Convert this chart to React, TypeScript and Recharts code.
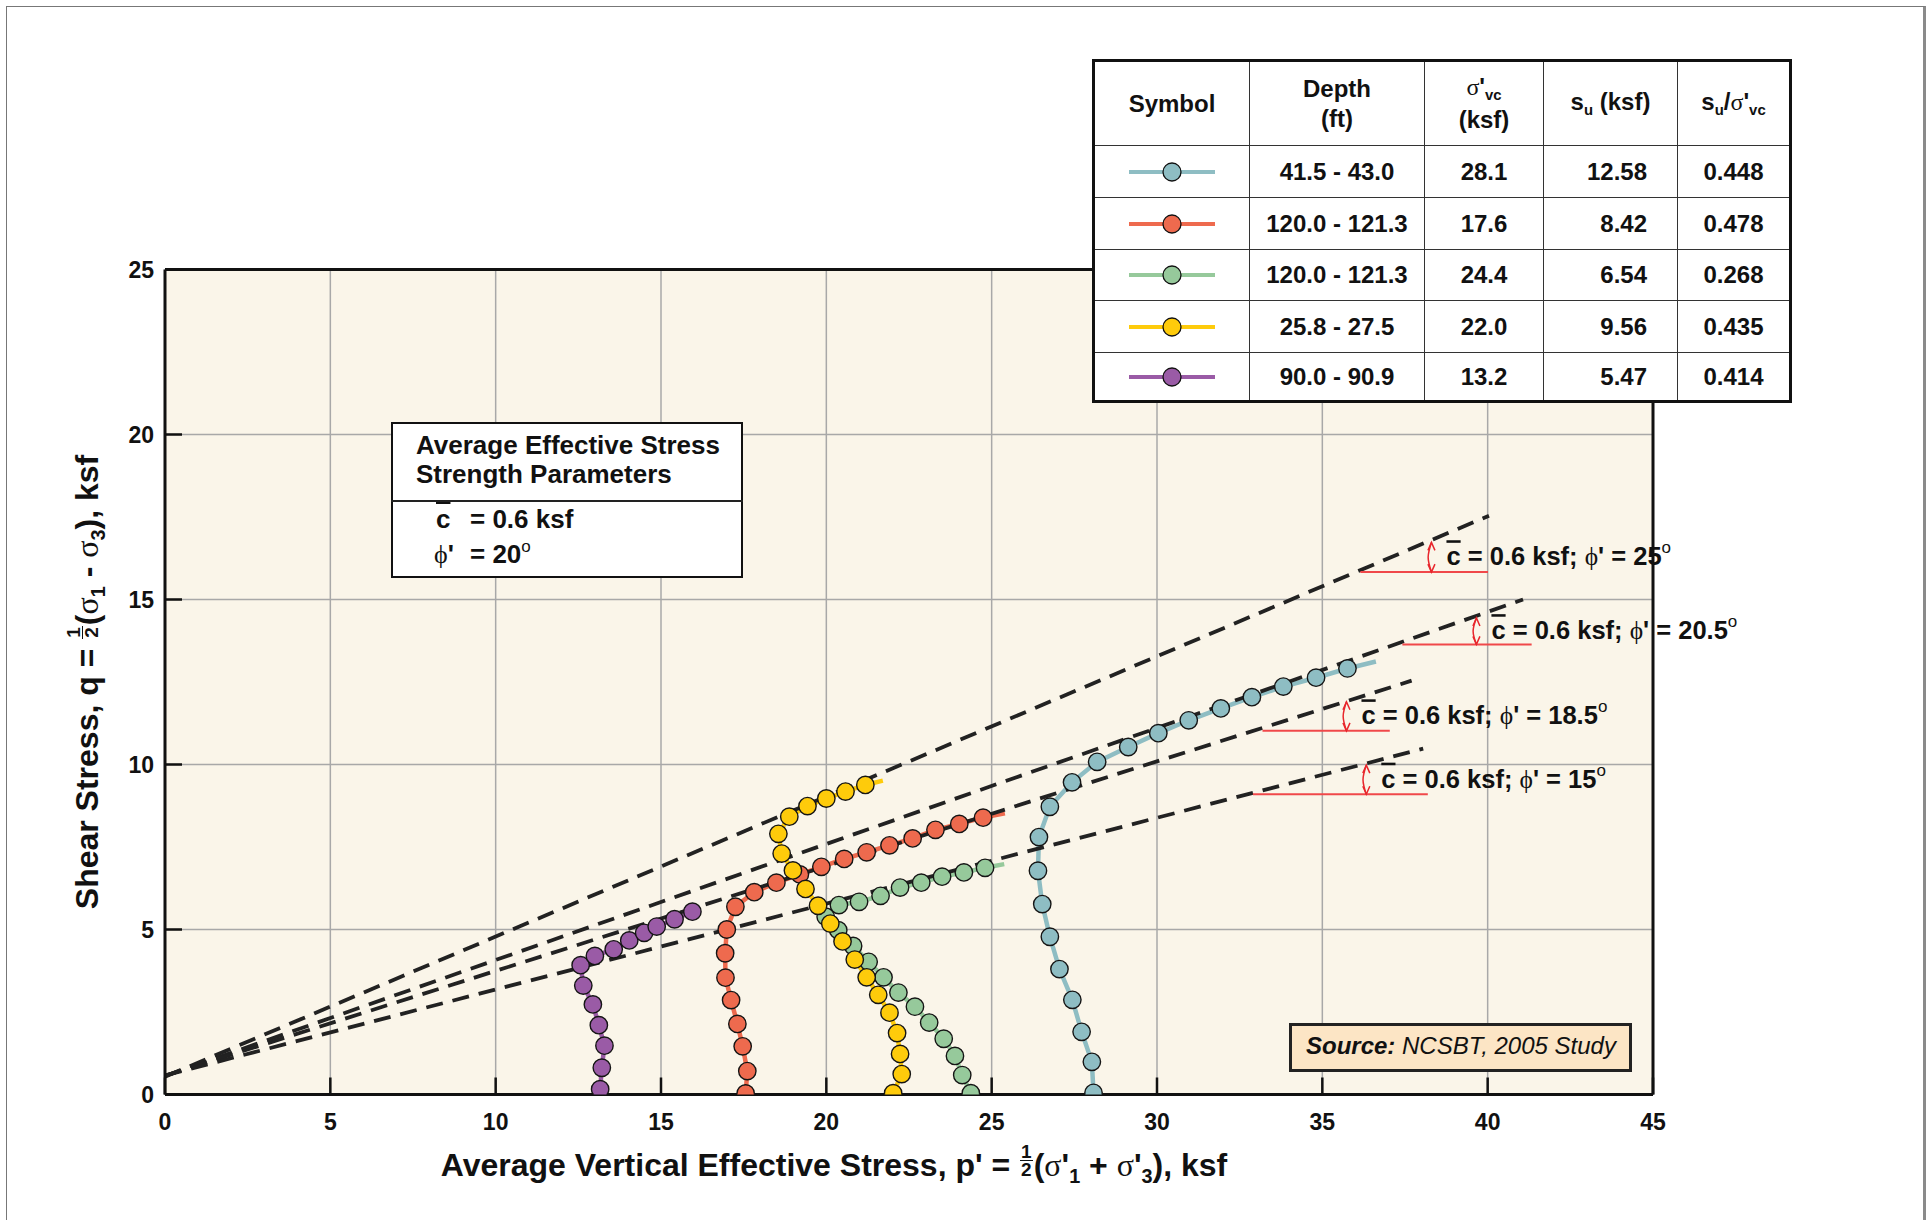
import React from "react";
import { ComposedChart, Line, Scatter, XAxis, YAxis, CartesianGrid } from "recharts";

const xTicks = [0, 5, 10, 15, 20, 25, 30, 35, 40, 45];
const yTicks = [0, 5, 10, 15, 20, 25];

// 41.5 - 43.0 ft
const tealP = [28.08, 28.03, 27.72, 27.44, 27.05, 26.76, 26.53, 26.4, 26.43, 26.76, 27.43, 28.19, 29.13, 30.04, 30.96, 31.93, 32.87, 33.82, 34.81, 35.76];
const tealQ = [0.05, 0.99, 1.9, 2.87, 3.8, 4.78, 5.77, 6.78, 7.8, 8.72, 9.46, 10.08, 10.53, 10.95, 11.34, 11.7, 12.04, 12.36, 12.63, 12.91];
const tealEnd = [36.62, 13.12];

// 120.0 - 121.3 ft (red)
const redP = [17.56, 17.61, 17.47, 17.31, 17.12, 16.95, 16.94, 16.99, 17.25, 17.82, 18.49, 19.2, 19.85, 20.54, 21.22, 21.91, 22.61, 23.3, 24.02, 24.74];
const redQ = [0.03, 0.71, 1.46, 2.14, 2.86, 3.54, 4.28, 5.0, 5.69, 6.13, 6.42, 6.67, 6.9, 7.14, 7.34, 7.55, 7.76, 8.02, 8.2, 8.39];
const redEnd = [25.4, 8.52];

// 120.0 - 121.3 ft (green)
const greenP = [24.37, 24.11, 23.89, 23.55, 23.11, 22.68, 22.18, 21.73, 21.28, 20.81, 20.36, 19.98, 20.38, 20.99, 21.64, 22.23, 22.87, 23.5, 24.16, 24.8];
const greenQ = [0.04, 0.59, 1.17, 1.69, 2.18, 2.66, 3.09, 3.55, 4.02, 4.5, 4.98, 5.39, 5.74, 5.84, 6.02, 6.27, 6.42, 6.6, 6.73, 6.87];
const greenEnd = [25.38, 6.98];

// 25.8 - 27.5 ft
const yellowP = [22.02, 22.28, 22.23, 22.14, 21.91, 21.57, 21.22, 20.86, 20.49, 20.12, 19.75, 19.37, 18.99, 18.65, 18.55, 18.88, 19.43, 20.0, 20.58, 21.18];
const yellowQ = [0.04, 0.62, 1.23, 1.86, 2.48, 3.02, 3.55, 4.09, 4.64, 5.18, 5.72, 6.23, 6.79, 7.3, 7.9, 8.42, 8.74, 8.97, 9.18, 9.38];
const yellowEnd = [21.71, 9.51];

// 90.0 - 90.9 ft
const purpleP = [13.16, 13.21, 13.29, 13.12, 12.94, 12.65, 12.57, 13.0, 13.57, 14.04, 14.49, 14.87, 15.41, 15.95];
const purpleQ = [0.16, 0.81, 1.48, 2.1, 2.73, 3.3, 3.92, 4.2, 4.4, 4.67, 4.9, 5.09, 5.31, 5.54];

// table
const depths = ["41.5 - 43.0", "120.0 - 121.3", "120.0 - 121.3", "25.8 - 27.5", "90.0 - 90.9"];
const sigmaVc = ["28.1", "17.6", "24.4", "22.0", "13.2"];
const suVals = ["12.58", "8.42", "6.54", "9.56", "5.47"];
const suRatio = ["0.448", "0.478", "0.268", "0.435", "0.414"];
const colors = ["#8ebdc3", "#ee6a4e", "#96c99b", "#fecb0b", "#9a5ba6"];

// strength envelopes, c = 0.6 ksf
const envPhi = ["25", "20.5", "18.5", "15"];
const envStartQ = [0.54, 0.56, 0.57, 0.58];
const envEndP = [40.04, 41.07, 37.7, 38.05];
const envEndQ = [17.54, 15.0, 12.54, 10.48];
const refQ = [15.83, 13.64, 11.02, 9.1];
const refP0 = [36.15, 37.42, 33.19, 32.9];
const refP1 = [40.01, 41.33, 37.04, 38.19];
const arrowP = [38.3, 39.66, 35.73, 36.33];
const arrowTopQ = [16.73, 14.44, 11.9, 9.98];

const SANS = '"Liberation Sans", Arial, Helvetica, sans-serif';
const SERIF = '"Liberation Serif", "Times New Roman", serif';
const RED = "#e8262c";

const pts = (p: number[], q: number[]) => p.map((x, i) => ({ x, y: q[i] }));
const withEnd = (p: number[], q: number[], end?: number[]) =>
  end ? [...pts(p, q), { x: end[0], y: end[1] }] : pts(p, q);

const series = [
  { key: "teal", color: colors[0], p: tealP, q: tealQ, end: tealEnd },
  { key: "red", color: colors[1], p: redP, q: redQ, end: redEnd },
  { key: "green", color: colors[2], p: greenP, q: greenQ, end: greenEnd },
  { key: "yellow", color: colors[3], p: yellowP, q: yellowQ, end: yellowEnd },
  { key: "purple", color: colors[4], p: purpleP, q: purpleQ, end: undefined },
];
const markerOrder = ["purple", "red", "green", "teal", "yellow"];

const tickStyle = { fill: "#111", fontSize: 23, fontWeight: 700, fontFamily: SANS };
const axisLine = { stroke: "#111", strokeWidth: 3 };
const tickLine = { stroke: "#111", strokeWidth: 2.5 };

const arrowHead = (props: any) => {
  const { cx, cy, index } = props;
  if (index === 1) return <g key={`a${index}`} />;
  const s = index === 0 ? -1 : 1;
  return (
    <path
      key={`a${index}`}
      d={`M${cx - 3.5},${cy + s * 8} L${cx},${cy} L${cx + 3.5},${cy + s * 8}`}
      fill="none"
      stroke={RED}
      strokeWidth={1.5}
    />
  );
};

const envLabel = (props: any) => {
  const { cx, cy, payload } = props;
  return (
    <text x={cx + 15} y={cy + 8} fontFamily={SANS} fontWeight={700} fontSize={25.5} fill="#111">
      <tspan style={{ textDecoration: "overline" }}>c</tspan>
      <tspan> = 0.6 ksf; </tspan>
      <tspan fontFamily={SERIF} fontWeight={400}>ϕ</tspan>
      <tspan>' = {payload.phi}</tspan>
      <tspan fontSize={17} fontWeight={400} dy={-12}>o</tspan>
    </text>
  );
};

const Sig = () => <span style={{ fontFamily: SERIF, fontWeight: 400 }}>σ</span>;
const Sub = ({ children }: { children: React.ReactNode }) => (
  <span style={{ fontSize: "0.62em", position: "relative", top: "0.35em" }}>{children}</span>
);
const Half = ({ size }: { size: number }) => (
  <span
    style={{
      display: "inline-flex",
      flexDirection: "column",
      alignItems: "center",
      fontSize: size,
      lineHeight: 0.9,
      verticalAlign: size - 1,
      margin: "0 1px",
    }}
  >
    <span style={{ borderBottom: "1.5px solid #111", padding: "0 1px" }}>1</span>
    <span>2</span>
  </span>
);

const abs = (left: number, top: number, extra: React.CSSProperties = {}): React.CSSProperties => ({
  position: "absolute",
  left,
  top,
  ...extra,
});

const colW = [155, 175, 119, 134, 111];
const rowH = [84, 52, 52, 51, 52, 47];

function DataTable() {
  const cell = (r: number, c: number, content: React.ReactNode, align: "center" | "right" = "center") => (
    <div
      key={`${r}-${c}`}
      style={{
        boxSizing: "border-box",
        borderRight: c < 4 ? "1.5px solid #333" : "none",
        borderBottom: r < 5 ? "1.5px solid #333" : "none",
        display: "flex",
        alignItems: "center",
        justifyContent: align === "center" ? "center" : "flex-end",
        paddingRight: align === "right" ? 30 : 0,
        textAlign: "center",
        lineHeight: "30px",
      }}
    >
      {content}
    </div>
  );
  const header = [
    "Symbol",
    <span>Depth<br />(ft)</span>,
    <span><Sig />'<Sub>vc</Sub><br />(ksf)</span>,
    <span>s<Sub>u</Sub> (ksf)</span>,
    <span>s<Sub>u</Sub>/<Sig />'<Sub>vc</Sub></span>,
  ];
  const cells: React.ReactNode[] = header.map((h, c) => cell(0, c, h));
  series.forEach((s, i) => {
    const r = i + 1;
    cells.push(
      cell(
        r,
        0,
        <svg width={86} height={24}>
          <line x1={0} y1={12} x2={86} y2={12} stroke={s.color} strokeWidth={4} />
          <circle cx={43} cy={12} r={9} fill={s.color} stroke="#111" strokeWidth={1.3} />
        </svg>
      )
    );
    cells.push(cell(r, 1, depths[i]));
    cells.push(cell(r, 2, sigmaVc[i]));
    cells.push(cell(r, 3, suVals[i], "right"));
    cells.push(cell(r, 4, suRatio[i]));
  });
  return (
    <div
      style={abs(1092, 59, {
        width: 700,
        height: 344,
        boxSizing: "border-box",
        border: "3px solid #111",
        background: "#fff",
        display: "grid",
        gridTemplateColumns: colW.map((w) => `${w}px`).join(" "),
        gridTemplateRows: rowH.map((h) => `${h}px`).join(" "),
        fontFamily: SANS,
        fontWeight: 700,
        fontSize: 24,
        color: "#111",
      })}
    >
      {cells}
    </div>
  );
}

const boxFont = `700 26px/1 ${SANS}`;

export default function App() {
  return (
    <div style={{ position: "relative", width: 1927, height: 1220, overflow: "hidden", background: "#fff" }}>
      <style>{`html,body{margin:0;padding:0;overflow:hidden;background:#fff}`}</style>
      <div style={abs(6, 6, { width: 1916, height: 1300, borderTop: "1px solid #777", borderLeft: "1px solid #777", borderRight: "3px solid #8a8a8a" })} />
      <div style={abs(0, 0)}>
        <ComposedChart width={1927} height={1220} margin={{ top: 268.5, right: 273, left: 0, bottom: 0 }}>
          <CartesianGrid fill="#faf5e9" stroke="#a8a8a8" strokeWidth={1.5} />
          <XAxis
            type="number"
            dataKey="x"
            domain={[0, 45]}
            ticks={xTicks}
            interval={0}
            height={125.5}
            tickSize={-17}
            tickMargin={36.5}
            axisLine={axisLine}
            tickLine={tickLine}
            tick={tickStyle}
            allowDataOverflow
          />
          <XAxis
            xAxisId="t"
            orientation="top"
            type="number"
            dataKey="x"
            domain={[0, 45]}
            ticks={xTicks}
            interval={0}
            height={1}
            tickSize={-17}
            axisLine={axisLine}
            tickLine={tickLine}
            tick={false}
          />
          <YAxis
            type="number"
            domain={[0, 25]}
            ticks={yTicks}
            interval={0}
            width={165}
            tickSize={-17}
            tickMargin={28}
            axisLine={axisLine}
            tickLine={tickLine}
            tick={tickStyle}
            allowDataOverflow
          />
          <YAxis
            yAxisId="r"
            orientation="right"
            type="number"
            domain={[0, 25]}
            ticks={yTicks}
            interval={0}
            width={1}
            tickSize={-17}
            axisLine={axisLine}
            tickLine={tickLine}
            tick={false}
          />

          {series.map((s) => (
            <Line
              key={`line-${s.key}`}
              data={withEnd(s.p, s.q, s.end)}
              dataKey="y"
              type="linear"
              stroke={s.color}
              strokeWidth={4.5}
              dot={false}
              activeDot={false}
              isAnimationActive={false}
            />
          ))}

          {envPhi.map((phi, i) => (
            <Line
              key={`env-${phi}`}
              data={[{ x: 0, y: envStartQ[i] }, { x: envEndP[i], y: envEndQ[i] }]}
              dataKey="y"
              type="linear"
              stroke="#222"
              strokeWidth={3.8}
              strokeDasharray="17 10"
              dot={false}
              activeDot={false}
              isAnimationActive={false}
            />
          ))}

          {envPhi.map((phi, i) => (
            <Line
              key={`ref-${phi}`}
              data={[{ x: refP0[i], y: refQ[i] }, { x: refP1[i], y: refQ[i] }]}
              dataKey="y"
              type="linear"
              stroke="#f0484a"
              strokeWidth={2}
              dot={false}
              activeDot={false}
              isAnimationActive={false}
            />
          ))}

          {envPhi.map((phi, i) => (
            <Line
              key={`arrow-${phi}`}
              data={[
                { x: arrowP[i], y: refQ[i] },
                { x: arrowP[i] - 0.1, y: (refQ[i] + arrowTopQ[i]) / 2 },
                { x: arrowP[i], y: arrowTopQ[i] },
              ]}
              dataKey="y"
              type="natural"
              stroke={RED}
              strokeWidth={1.5}
              dot={arrowHead}
              activeDot={false}
              isAnimationActive={false}
            />
          ))}

          {markerOrder.map((k) => {
            const s = series.find((d) => d.key === k)!;
            return (
              <Scatter
                key={`pts-${k}`}
                data={pts(s.p, s.q)}
                dataKey="y"
                isAnimationActive={false}
                shape={(props: any) => (
                  <circle cx={props.cx} cy={props.cy} r={8.7} fill={s.color} stroke="#151515" strokeWidth={1.4} />
                )}
              />
            );
          })}

          <Scatter
            xAxisId="t"
            yAxisId="r"
            data={envPhi.map((phi, i) => ({ x: arrowP[i], y: (refQ[i] + arrowTopQ[i]) / 2, phi }))}
            dataKey="y"
            isAnimationActive={false}
            shape={envLabel}
          />
        </ComposedChart>
      </div>

      <DataTable />

      {/* strength parameter box */}
      <div style={abs(391, 421.5, { width: 352, height: 156, boxSizing: "border-box", border: "2.5px solid #111", background: "#fff" })} />
      <div style={abs(391, 500, { width: 352, height: 1.5, background: "#222" })} />
      <div style={abs(416, 432.3, { font: boxFont, color: "#111", whiteSpace: "nowrap" })}>Average Effective Stress</div>
      <div style={abs(416, 460.7, { font: boxFont, color: "#111", whiteSpace: "nowrap" })}>Strength Parameters</div>
      <div style={abs(436, 506, { font: boxFont, color: "#111", whiteSpace: "nowrap" })}>
        <span style={{ textDecoration: "overline" }}>c</span>
      </div>
      <div style={abs(470, 506, { font: boxFont, color: "#111", whiteSpace: "nowrap" })}>= 0.6 ksf</div>
      <div style={abs(434, 541.3, { font: boxFont, color: "#111", whiteSpace: "nowrap" })}>
        <span style={{ fontFamily: SERIF, fontWeight: 400 }}>ϕ</span>'
      </div>
      <div style={abs(470, 541.3, { font: boxFont, color: "#111", whiteSpace: "nowrap" })}>
        = 20<span style={{ fontSize: 17, fontWeight: 400, position: "relative", top: -11 }}>o</span>
      </div>

      {/* source box */}
      <div style={abs(1289, 1023, { width: 343, height: 49, boxSizing: "border-box", border: "3px solid #222", background: "#fce5c5" })} />
      <div style={abs(1306, 1034, { font: `italic 400 24px/1 ${SANS}`, color: "#111", whiteSpace: "nowrap" })}>
        <b>Source:</b> NCSBT, 2005 Study
      </div>

      {/* axis titles */}
      <div
        style={abs(334, 1135, {
          width: 1000,
          textAlign: "center",
          font: `700 32px/60px ${SANS}`,
          color: "#111",
          whiteSpace: "nowrap",
        })}
      >
        Average Vertical Effective Stress, p' = <Half size={19} />(<Sig />'<Sub>1</Sub> + <Sig />'<Sub>3</Sub>), ksf
      </div>
      <div
        style={abs(87 - 300, 682 - 30, {
          width: 600,
          height: 60,
          textAlign: "center",
          font: `700 32px/60px ${SANS}`,
          color: "#111",
          whiteSpace: "nowrap",
          transform: "rotate(-90deg)",
          transformOrigin: "50% 50%",
        })}
      >
        Shear Stress, q = <Half size={19} />(<Sig /><Sub>1</Sub> - <Sig /><Sub>3</Sub>), ksf
      </div>
    </div>
  );
}
